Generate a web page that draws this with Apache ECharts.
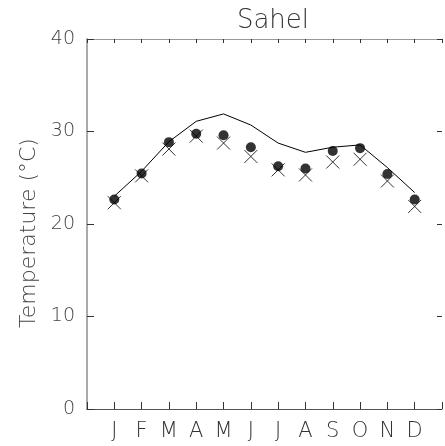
<!DOCTYPE html>
<html><head><meta charset="utf-8">
<script src="https://cdn.jsdelivr.net/npm/echarts@6/dist/echarts.min.js"></script>
<style>html,body{margin:0;padding:0;background:#fff}#c{width:445px;height:446px}</style>
</head><body><div id="c"></div>
<script>
const months = ['J','F','M','A','M','J','J','A','S','O','N','D'];
const lineValues = [23.0, 25.7, 28.9, 31.1, 31.9, 30.7, 28.75, 27.75, 28.3, 28.55, 26.1, 23.4];
const circleValues = [22.65, 25.45, 28.85, 29.75, 29.6, 28.3, 26.25, 26.0, 27.9, 28.2, 25.4, 22.65];
const crossValues = [22.3, 25.2, 28.1, 29.5, 28.75, 27.3, 25.85, 25.3, 26.7, 27.0, 24.65, 21.9];
const yTicks = [0, 10, 20, 30, 40];

const toPts = arr => arr.map((v, i) => [i + 1, v]);
const FONT = 'DejaVu Sans';
const chart = echarts.init(document.getElementById('c'), null, {renderer: 'canvas'});
chart.setOption({
  animation: false,
  title: {text: 'Sahel', left: 268, top: 3, textAlign: 'center',
    textStyle: {fontFamily: FONT, fontWeight: 200, fontSize: 26, color: '#333'}},
  grid: {left: 87, right: 0, top: 39, bottom: 37},
  xAxis: [{
    type: 'value', min: 0, max: 13, interval: 1, position: 'bottom',
    axisLine: {onZero: false, lineStyle: {color: '#555', width: 1}},
    axisTick: {inside: true, length: 7, lineStyle: {color: '#333'}},
    splitLine: {show: false},
    axisLabel: {margin: 12, fontFamily: FONT, fontWeight: 200, fontSize: 21, color: '#333',
      formatter: v => (v >= 1 && v <= 12) ? months[v - 1] : ''}
  }, {
    type: 'value', min: 0, max: 13, interval: 1, position: 'top',
    axisLine: {onZero: false, lineStyle: {color: '#999', width: 1}},
    axisTick: {inside: true, length: 4, lineStyle: {color: '#333'}},
    splitLine: {show: false},
    axisLabel: {show: false}
  }],
  yAxis: [{
    type: 'value', min: 0, max: 40, interval: 10, position: 'left',
    name: 'Temperature (°C)', nameLocation: 'middle', nameGap: 46, nameRotate: 90,
    nameTextStyle: {fontFamily: FONT, fontWeight: 200, fontSize: 22, color: '#444', padding: [0, 18, 0, 0]},
    axisLine: {show: true, onZero: false, lineStyle: {color: '#aaa', width: 2}},
    axisTick: {show: true, inside: true, length: 7, lineStyle: {color: '#333'}},
    splitLine: {show: false},
    axisLabel: {margin: 12, fontFamily: FONT, fontWeight: 200, fontSize: 19, color: '#444',
      formatter: v => yTicks.includes(v) ? String(v) : ''}
  }, {
    type: 'value', min: 0, max: 40, interval: 10, position: 'right',
    axisLine: {show: false, onZero: false},
    axisTick: {show: true, inside: true, length: 5, lineStyle: {color: '#333'}},
    splitLine: {show: false},
    axisLabel: {show: false}
  }],
  series: [{
    type: 'line', data: toPts(lineValues), showSymbol: false, symbol: 'none',
    lineStyle: {color: '#000', width: 1}, z: 2
  }, {
    type: 'scatter', data: toPts(crossValues),
    symbol: 'path://M0,0L10,10M10,0L0,10', symbolSize: 13,
    itemStyle: {color: 'transparent', borderColor: '#000', borderWidth: 1}, z: 3
  }, {
    type: 'scatter', data: toPts(circleValues), symbol: 'circle', symbolSize: 10,
    itemStyle: {color: '#000'}, z: 4
  }]
});
</script></body></html>
